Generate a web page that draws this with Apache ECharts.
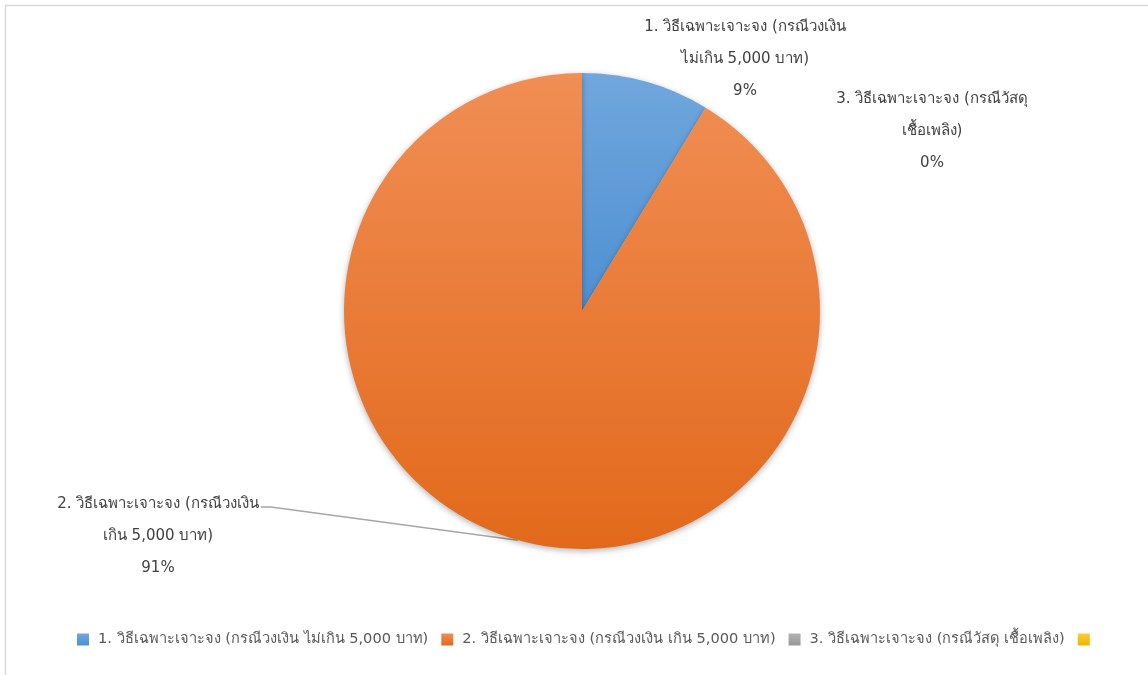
<!DOCTYPE html>
<html>
<head>
<meta charset="utf-8">
<title>pie</title>
<script src="https://cdn.jsdelivr.net/npm/echarts@6/dist/echarts.min.js"></script>
<style>
  html, body { margin: 0; padding: 0; background: #fff; }
  #chart { width: 1148px; height: 675px; }
</style>
</head>
<body>
<div id="chart"></div>
<script>
// slice names, counts (9% / 91% / 0%)
const categories = [
  '1. วิธีเฉพาะเจาะจง (กรณีวงเงิน ไม่เกิน 5,000 บาท)',
  '2. วิธีเฉพาะเจาะจง (กรณีวงเงิน เกิน 5,000 บาท)',
  '3. วิธีเฉพาะเจาะจง (กรณีวัสดุ เชื้อเพลิง)',
  ' '
]
const values = [2, 21, 0, 0]
const showLabel = [true, true, true, false]

// where the data labels sit (Excel style placement)
const labelSpots = [
  { x: 745, y: 59 },
  { x: 158, y: 536 },
  { x: 932, y: 131 }
]

const colors = [
  ['#70a7dd', '#4e8fd2'],
  ['#f18e55', '#e2691b'],
  ['#b3b3b3', '#979797'],
  ['#ffcb33', '#f0b400']
]

function grad(pair) {
  return new echarts.graphic.LinearGradient(0, 0, 0, 1, [
    { offset: 0, color: pair[0] },
    { offset: 1, color: pair[1] }
  ])
}

const chart = echarts.init(document.getElementById('chart'))

chart.setOption({
  animation: false,
  textStyle: { fontFamily: 'Tahoma, "DejaVu Sans", sans-serif' },
  graphic: [{
    type: 'rect',
    shape: { x: 5.5, y: 5.5, width: 1160, height: 700 },
    style: { fill: 'none', stroke: '#d9d9d9', lineWidth: 1.5 },
    silent: true
  }],
  legend: {
    bottom: 23,
    left: 72,
    icon: 'rect',
    itemWidth: 12,
    itemHeight: 12,
    itemGap: 13,
    data: categories,
    textStyle: { color: '#595959', fontSize: 14.6, padding: [0, 0, 0, 4] }
  },
  series: [{
    type: 'pie',
    center: [582, 311],
    radius: 238,
    startAngle: 90,
    clockwise: true,
    avoidLabelOverlap: false,
    stillShowZeroSum: true,
    itemStyle: {
      shadowBlur: 6,
      shadowOffsetY: 2,
      shadowColor: 'rgba(0,0,0,0.3)'
    },
    emphasis: { disabled: true },
    label: {
      show: true,
      color: '#404040',
      fontSize: 15,
      lineHeight: 32,
      align: 'center',
      formatter: p => p.name.replace(/(\(\S+) /, '$1\n') + '\n' + Math.round(p.percent) + '%'
    },
    labelLine: {
      show: false,
      lineStyle: { color: '#a6a6a6', width: 1.5 }
    },
    labelLayout: function (p) {
      const spot = labelSpots[p.dataIndex]
      if (!spot) return {}
      const out = { x: spot.x, y: spot.y, align: 'center', verticalAlign: 'middle' }
      if (p.dataIndex === 1 && p.labelLinePoints) {
        const r = p.labelRect
        const right = spot.x + r.width / 2
        const firstLine = spot.y - r.height / 2 + 19
        out.labelLinePoints = [
          p.labelLinePoints[0],
          [right + 12, firstLine],
          [right + 2, firstLine]
        ]
      }
      return out
    },
    data: values.map((v, i) => ({
      name: categories[i],
      value: v,
      itemStyle: { color: grad(colors[i]) },
      label: { show: showLabel[i] },
      labelLine: { show: i === 1 }
    }))
  }]
})
</script>
</body>
</html>
